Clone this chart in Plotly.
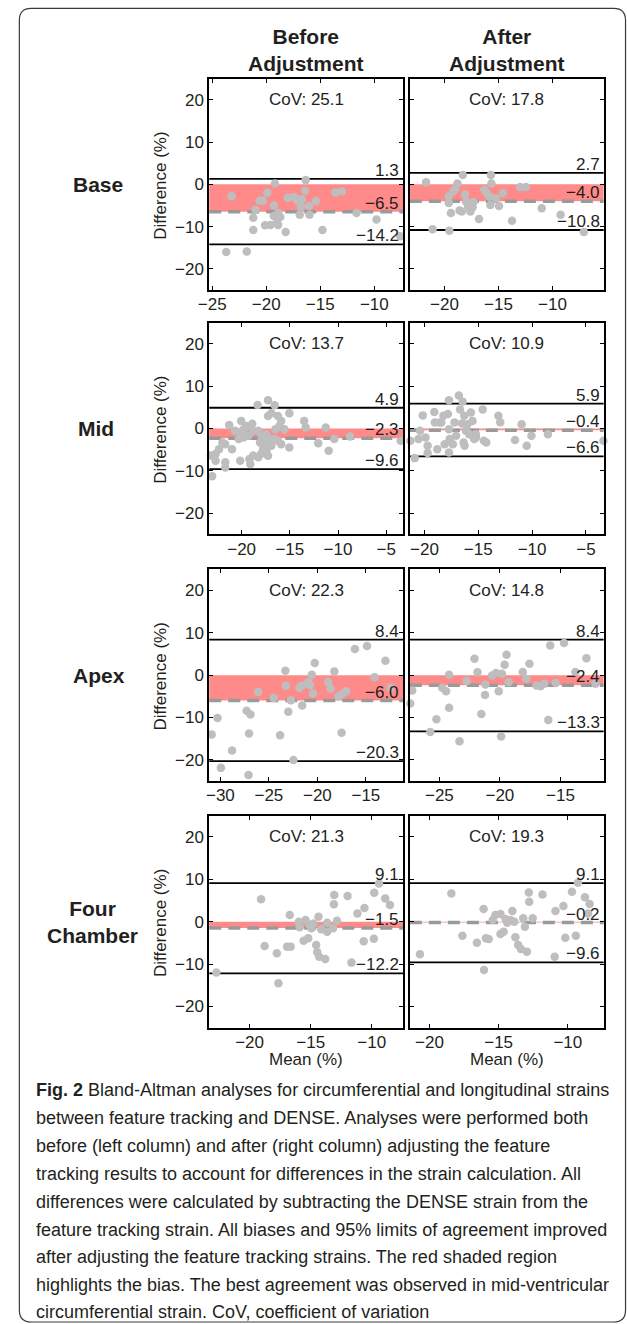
import plotly.graph_objects as go

# ---------------- data ----------------
row_names = ["Base", "Mid", "Apex", "Four<br>Chamber"]
col_titles = ["Before<br>Adjustment", "After<br>Adjustment"]

base_before_mean = [-23.7, -21.8, -23.2, -21.2, -21.2, -21.0, -20.6, -20.3, -19.9, -19.2,
                    -19.3, -20.1, -19.6, -19.3, -19.0, -18.9, -18.7, -18.9, -18.2, -18.0,
                    -17.4, -17.1, -16.9, -16.8, -16.7, -16.4, -16.35, -16.05, -16.0, -15.4,
                    -14.8, -13.6, -13.0, -11.65, -9.8, -7.6]
base_before_diff = [-16.0, -15.9, -2.8, -10.8, -7.9, -6.0, -3.9, -3.9, -2.0, 0.2,
                    -5.0, -9.7, -9.6, -7.5, -9.0, -9.6, -7.7, -6.8, -11.3, -3.2,
                    -3.0, -3.9, -7.2, -5.3, -3.5, -1.5, 1.0, -5.1, -7.2, -4.0,
                    -10.8, -1.9, -1.7, -6.8, -8.3, -12.3]

base_after_mean = [-21.7, -21.1, -19.55, -19.6, -19.6, -19.4, -19.2, -19.0, -18.8, -18.3,
                   -18.1, -18.6, -18.4, -18.0, -17.8, -17.7, -17.6, -17.4, -17.3, -16.8,
                   -16.3, -16.1, -15.85, -15.7, -15.65, -15.75, -15.25, -14.95, -14.6, -13.75,
                   -13.0, -12.45, -11.0, -9.25, -7.1]
base_after_diff = [0.5, -10.6, -11.0, -4.4, -2.9, -6.8, -1.7, -1.1, 0.2, 2.2,
                   -2.4, -6.2, -6.4, -4.1, -5.3, -4.6, -6.4, -5.4, -4.2, -8.2,
                   -1.3, -2.0, -2.9, 2.2, 0.2, -4.9, -3.3, -5.1, -2.1, -8.6,
                   -0.6, -0.6, -5.65, -7.2, -11.3]

mid_before_mean = [-23.06, -23.2, -22.7, -22.7, -22.35, -22.0, -21.7, -21.7, -21.7, -21.0,
                   -21.3, -20.7, -20.3, -20.15, -20.15, -20.05, -19.8, -19.8, -19.47, -19.3,
                   -19.2, -19.1, -18.9, -18.8, -18.8, -18.35, -18.27, -18.27, -18.1, -18.0,
                   -17.94, -17.77, -17.53, -17.43, -17.43, -17.26, -17.26, -17.26, -17.09, -16.92,
                   -16.92, -16.58, -16.58, -16.5, -16.24, -16.24, -16.07, -15.9, -15.9, -15.56,
                   -15.05, -15.05, -13.52, -13.35, -12.06, -11.28, -10.97, -10.39, -8.76, -3.5]
mid_before_diff = [-11.3, -6.4, -6.05, -7.6, -4.9, -3.3, -3.7, -8.0, -9.2, -4.9,
                   0.85, -0.55, -2.5, -0.94, -7.6, 1.8, -0.16, -2.1, 0.62, -1.73,
                   -7.2, -8.4, 1.1, -0.55, -6.4, 5.56, -0.55, -6.8, -3.3, -6.05,
                   -1.73, -4.87, -3.3, -1.34, -5.27, 6.7, 2.97, -6.44, -2.5, 3.6,
                   -4.1, 5.48, -2.5, -0.16, 2.97, -2.9, 0.62, 1.8, -3.7, -0.16,
                   3.6, -4.47, 1.8, 0.23, -3.46, 0.23, -5.27, -2.5, -1.9, -2.9]

mid_after_mean = [-20.9, -21.3, -20.55, -20.4, -20.15, -19.9, -19.7, -19.7, -19.08, -19.03,
                  -18.8, -18.6, -18.43, -18.24, -18.12, -17.82, -17.72, -17.72, -17.72, -17.66,
                  -17.36, -17.2, -17.06, -16.8, -16.69, -16.5, -16.45, -16.36, -16.3, -16.27,
                  -16.15, -16.0, -15.84, -15.69, -15.53, -15.38, -15.23, -15.2, -14.59, -14.47,
                  -14.26, -13.13, -12.96, -11.59, -10.97, -10.5, -10.06, -8.53, -3.38]
mid_after_diff = [-7.0, -2.9, -2.5, -0.55, 3.1, -2.1, -4.1, -5.8, 3.9, 1.4,
                  -4.9, 1.4, 1.4, 3.0, -3.7, 3.4, 6.7, -0.16, -5.65, -2.5,
                  -3.7, 1.4, -1.7, 7.8, 4.5, 1.2, 6.35, -3.3, 3.0, -4.1,
                  -0.55, 1.0, -1.34, 3.8, 1.8, -2.5, -1.34, -2.1, 4.5, -2.9,
                  -3.3, 3.0, 1.5, -2.7, 1.0, -4.1, -1.7, -1.34, -2.9]

apex_before_mean = [-30.9, -30.3, -29.95, -28.8, -27.3, -26.9, -27.05, -27.1, -26.1, -24.5,
                    -23.85, -23.3, -23.25, -23.0, -22.73, -22.47, -21.85, -21.57, -21.6, -20.93,
                    -20.76, -20.57, -20.46, -20.27, -18.9, -18.64, -18.25, -17.83, -17.5, -17.5,
                    -17.03, -16.13, -14.88, -14.11, -12.98, -12.45]
apex_before_diff = [-14.0, -10.1, -21.9, -17.8, -8.4, -9.3, -13.8, -23.6, -3.95, -5.4,
                    -14.2, 1.06, -2.5, -8.66, -5.95, -20.05, -3.0, -7.18, -2.47, -1.69,
                    -2.4, 0.12, -4.35, 2.87, -1.6, -3.18, 0.89, -4.99, -13.6, -4.5,
                    -3.8, 6.2, 6.9, -0.5, 3.4, -3.0]

apex_after_mean = [-27.4, -27.25, -25.75, -25.25, -24.77, -24.45, -24.2, -24.2, -23.34, -22.75,
                   -22.1, -21.85, -21.53, -21.2, -21.23, -20.65, -20.32, -20.1, -19.9, -19.83,
                   -19.61, -19.45, -19.28, -18.11, -17.82, -17.56, -16.98, -16.65, -16.33, -16.0,
                   -15.84, -15.39, -14.7, -13.76, -12.85, -12.1]
apex_after_diff = [-6.7, -3.6, -13.4, -10.4, -3.0, -3.8, 0.1, -7.7, -15.6, -1.4,
                   3.85, 0.7, -9.2, -2.2, -4.7, -0.1, 0.5, -3.8, -14.5, 0.35,
                   2.47, 4.82, -1.69, 0.75, -0.9, 2.7, -2.47, -2.63, -2.0, -10.6,
                   7.0, -1.84, 7.6, 0.75, 4.0, -2.0]

fourch_before_mean = [-22.72, -19.06, -18.77, -17.77, -17.64, -16.93, -16.64, -16.71, -15.97, -15.9,
                      -15.58, -15.42, -15.2, -15.1, -14.94, -14.78, -14.55, -14.46, -14.36, -14.3,
                      -14.14, -13.81, -13.65, -13.65, -13.17, -13.1, -13.07, -12.85, -11.98, -11.66,
                      -11.18, -10.66, -10.6, -9.83, -9.8, -9.41, -8.9, -8.51]
fourch_before_diff = [-12.0, 5.27, -5.72, -7.45, -14.5, -5.88, -5.88, 1.58, 0.0, -1.3,
                      -4.5, 0.4, -3.9, -0.78, -1.56, -0.4, -5.5, -7.2, 1.18, -8.24,
                      -1.8, -8.78, -0.24, -2.35, -1.56, 4.09, 6.28, 0.24, 6.05, -9.65,
                      1.96, -4.6, 3.22, -4.0, 6.82, 9.03, 5.5, 3.92]

fourch_after_mean = [-20.69, -18.42, -17.62, -16.57, -16.09, -16.06, -15.92, -15.72, -15.43, -15.24,
                     -14.87, -14.87, -14.64, -14.5, -14.38, -14.15, -14.01, -13.87, -13.79, -13.59,
                     -13.39, -13.22, -13.1, -12.96, -12.82, -12.79, -12.54, -11.83, -10.95, -10.89,
                     -10.32, -10.18, -9.7, -9.42, -9.27, -8.76, -8.42, -8.53]
fourch_after_diff = [-7.67, 6.67, -3.29, -4.94, 2.98, -11.37, -3.9, -4.07, 0.4, 1.58,
                     1.8, -2.9, -2.35, 0.63, -0.24, 0.4, 2.51, 0.0, -3.67, -5.48,
                     -6.42, 0.8, -1.18, -7.06, 6.9, 4.7, 0.8, 6.43, -8.24, 2.51,
                     3.7, -3.76, 7.06, -3.29, 9.18, 5.74, 4.16, 1.96]

# Bland-Altman statistics (panel order: Base B/A, Mid B/A, Apex B/A, Four Chamber B/A)
bias = [-6.5, -4.0, -2.3, -0.4, -6.0, -2.4, -1.5, -0.2]
upper_loa = [1.3, 2.7, 4.9, 5.9, 8.4, 8.4, 9.1, 9.1]
lower_loa = [-14.2, -10.8, -9.6, -6.6, -20.3, -13.3, -12.2, -9.6]
cov = [25.1, 17.8, 13.7, 10.9, 22.3, 14.8, 21.3, 19.3]

y_ticks = [-20, -10, 0, 10, 20]

caption_lines = [
    "<b>Fig. 2</b> Bland-Altman analyses for circumferential and longitudinal strains",
    "between feature tracking and DENSE. Analyses were performed both",
    "before (left column) and after (right column) adjusting the feature",
    "tracking results to account for differences in the strain calculation. All",
    "differences were calculated by subtracting the DENSE strain from the",
    "feature tracking strain. All biases and 95% limits of agreement improved",
    "after adjusting the feature tracking strains. The red shaded region",
    "highlights the bias. The best agreement was observed in mid-ventricular",
    "circumferential strain. CoV, coefficient of variation",
]

panels = [
    (base_before_mean, base_before_diff), (base_after_mean, base_after_diff),
    (mid_before_mean, mid_before_diff), (mid_after_mean, mid_after_diff),
    (apex_before_mean, apex_before_diff), (apex_after_mean, apex_after_diff),
    (fourch_before_mean, fourch_before_diff), (fourch_after_mean, fourch_after_diff),
]

# ---------------- layout geometry (pixels) ----------------
W, H = 627, 1324
col_px = [(201.8, 399.3), (406.0, 603.2)]
row_px = [(78.7, 290.0), (322.7, 534.3), (569.3, 781.0), (815.7, 1027.7)]
x_ranges = [(-25.27, -7.32), (-23.2, -5.27),
            (-23.36, -3.23), (-21.35, -3.36),
            (-31.15, -11.14), (-27.44, -11.43),
            (-23.3, -7.42), (-21.42, -7.41)]

def px(x):
    return x / W

def py(y):
    return 1 - y / H

FONT = "Liberation Sans, Arial, Helvetica, sans-serif"
TXT = "#231F20"
fs = 17

fig = go.Figure()
layout = dict(width=W, height=H, margin=dict(l=0, r=0, t=0, b=0), autosize=False,
              paper_bgcolor="white", plot_bgcolor="white", showlegend=False,
              font=dict(family=FONT, size=fs, color=TXT))
shapes = []
annotations = []

for i, (mx, dy) in enumerate(panels):
    r, c = divmod(i, 2)
    n = i + 1
    xs = "" if n == 1 else str(n)
    x0p, x1p = col_px[c]
    ytop, ybot = row_px[r]
    layout["xaxis" + xs] = dict(
        domain=[px(x0p), px(x1p)], anchor="y" + xs, range=list(x_ranges[i]),
        tickmode="linear", tick0=0, dtick=5, ticks="inside", ticklen=4, tickwidth=1.2,
        tickcolor="black", showline=True, linecolor="black", linewidth=1.8, mirror="ticks",
        showgrid=False, zeroline=False, ticklabelstandoff=-2,
        tickfont=dict(size=fs, color=TXT, family=FONT))
    layout["yaxis" + xs] = dict(
        domain=[py(ybot), py(ytop)], anchor="x" + xs, range=[-25, 25],
        tickmode="array", tickvals=y_ticks, ticks="inside", ticklen=4, tickwidth=1.2,
        tickcolor="black", showline=True, linecolor="black", linewidth=1.8, mirror="ticks",
        showgrid=False, zeroline=False, showticklabels=(c == 0),
        tickfont=dict(size=fs, color=TXT, family=FONT))

    xr = "x" + xs + " domain"
    yr = "y" + xs
    # bias shading
    shapes.append(dict(type="rect", xref=xr, yref=yr, x0=0, x1=1, y0=0, y1=bias[i],
                       fillcolor="#FF8A8A", line=dict(width=0), layer="below"))
    # limits of agreement
    for v in (upper_loa[i], lower_loa[i]):
        shapes.append(dict(type="line", xref=xr, yref=yr, x0=0, x1=1, y0=v, y1=v,
                           line=dict(color="black", width=1.8), layer="below"))
    # bias dashed line
    shapes.append(dict(type="line", xref=xr, yref=yr, x0=0, x1=1, y0=bias[i], y1=bias[i],
                       line=dict(color="#9A9A9A", width=3.5, dash="12px,7px"), layer="below"))

    fig.add_trace(go.Scatter(x=mx, y=dy, mode="markers", xaxis="x" + xs, yaxis="y" + xs,
                             cliponaxis=False, hoverinfo="skip",
                             marker=dict(color="#BEBEBE", size=8.5, line=dict(width=0))))

    # CoV text
    annotations.append(dict(xref=xr, yref=yr, x=0.5, y=20, text="CoV: %.1f" % cov[i],
                            showarrow=False, xanchor="center", yanchor="middle",
                            font=dict(size=fs, color=TXT, family=FONT)))
    # value labels
    for v in (upper_loa[i], bias[i], lower_loa[i]):
        lab = ("%.1f" % v).replace("-", "\u2212")
        annotations.append(dict(xref=xr, yref=yr, x=1, y=v, text=lab, showarrow=False,
                                xanchor="right", yanchor="bottom", xshift=-2, yshift=-3,
                                font=dict(size=fs, color=TXT, family=FONT)))

# column titles
for c, t in enumerate(col_titles):
    cx = (col_px[c][0] + col_px[c][1]) / 2
    annotations.append(dict(xref="paper", yref="paper", x=px(cx), y=py(50), text="<b>%s</b>" % t,
                            showarrow=False, xanchor="center", yanchor="middle",
                            font=dict(size=21, color=TXT, family=FONT)))

# row titles and y-axis titles
row_label_x = [89, 87, 90, 83]
for r, name in enumerate(row_names):
    yc = (row_px[r][0] + row_px[r][1]) / 2
    annotations.append(dict(xref="paper", yref="paper", x=px(row_label_x[r]), y=py(yc),
                            text="<b>%s</b>" % name, showarrow=False, xanchor="center",
                            yanchor="middle", font=dict(size=21, color=TXT, family=FONT)))
    annotations.append(dict(xref="paper", yref="paper", x=px(152), y=py(yc + 1),
                            text="Difference (%)", textangle=-90, showarrow=False,
                            xanchor="center", yanchor="middle",
                            font=dict(size=fs, color=TXT, family=FONT)))

# x-axis titles
for c in range(2):
    cx = (col_px[c][0] + col_px[c][1]) / 2
    annotations.append(dict(xref="paper", yref="paper", x=px(cx), y=py(1059),
                            text="Mean (%)", showarrow=False, xanchor="center",
                            yanchor="middle", font=dict(size=fs, color=TXT, family=FONT)))

# caption
cap_y = [1090, 1118, 1146, 1174, 1202, 1229.5, 1257, 1284.5, 1312]
for line, yy in zip(caption_lines, cap_y):
    annotations.append(dict(xref="paper", yref="paper", x=px(23), y=py(yy), text=line,
                            showarrow=False, xanchor="left", yanchor="middle",
                            font=dict(size=18, color=TXT, family=FONT)))

# rounded outer border
bx0, bx1, byt, byb, rad = 8.5, 625.5, 8.3, 1322.0, 12.0
rx, ry = rad / W, rad / H
X0, X1, YT, YB = px(bx0), px(bx1), py(byt), py(byb)
path = (f"M {X0+rx},{YT} L {X1-rx},{YT} Q {X1},{YT} {X1},{YT-ry} "
        f"L {X1},{YB+ry} Q {X1},{YB} {X1-rx},{YB} L {X0+rx},{YB} Q {X0},{YB} {X0},{YB+ry} "
        f"L {X0},{YT-ry} Q {X0},{YT} {X0+rx},{YT} Z")
shapes.append(dict(type="path", xref="paper", yref="paper", path=path,
                   line=dict(color="#3A3A3A", width=1.2), fillcolor="rgba(0,0,0,0)", layer="above"))

layout["shapes"] = shapes
layout["annotations"] = annotations
fig.update_layout(**layout)
fig.write_html("out.html", config={"displayModeBar": False},
               post_script="document.body.style.margin='0';document.body.style.padding='0';"
                           "document.documentElement.style.overflow='hidden';"
                           "document.body.style.overflow='hidden';")
